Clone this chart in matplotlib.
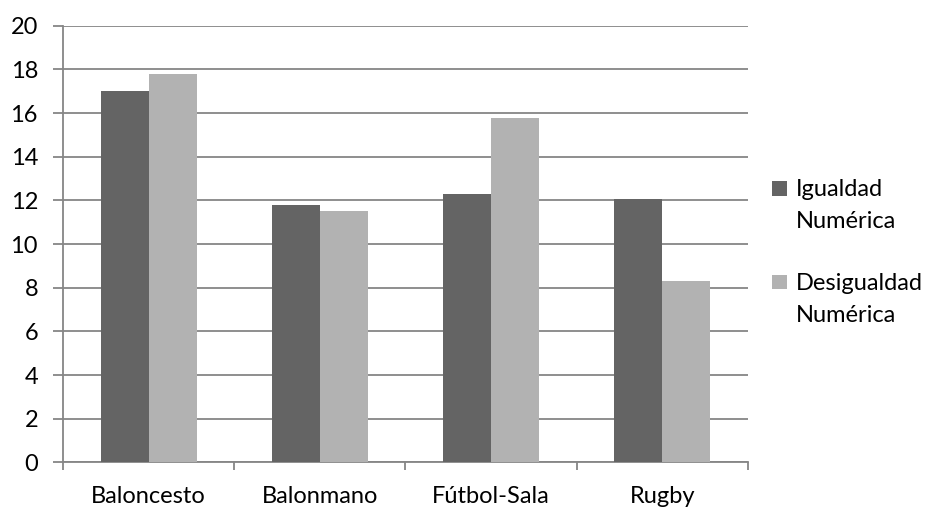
import matplotlib
matplotlib.use("Agg")
import matplotlib.pyplot as plt
import numpy as np
from matplotlib.patches import Patch, Rectangle
from matplotlib.legend_handler import HandlerPatch

categories = ["Baloncesto", "Balonmano", "Fútbol-Sala", "Rugby"]
igualdad = [17.0, 11.8, 12.3, 12.05]
desigualdad = [17.8, 11.5, 15.75, 8.3]
series_labels = ["Igualdad\nNumérica", "Desigualdad\nNumérica"]
yticks = [0, 2, 4, 6, 8, 10, 12, 14, 16, 18, 20]

dark = "#646464"
light = "#b2b2b2"
grid_c = "#868686"
fs = 17

plt.rcParams["font.family"] = ["Lato", "DejaVu Sans"]

fig = plt.figure(figsize=(9.28, 5.08), dpi=100)
ax = fig.add_axes([0.0679, 0.0898, 0.806 - 0.0679, 0.9494 - 0.0898])

x = np.arange(len(categories))
w = 0.28
ax.bar(x - w / 2, igualdad, w, color=dark, edgecolor="none", zorder=3)
ax.bar(x + w / 2, desigualdad, w, color=light, edgecolor="none", zorder=3)

ax.set_xlim(-0.5, len(categories) - 0.5)
ax.set_ylim(0, 20)
ax.set_yticks(yticks)
ax.set_yticklabels([str(v) for v in yticks], fontsize=fs)
ax.yaxis.grid(True, color=grid_c, linewidth=1.3, zorder=0)

# category labels centred, tick marks on category boundaries
ax.set_xticks(x)
ax.set_xticklabels(categories, fontsize=fs)
ax.tick_params(axis="x", which="major", length=0, pad=17)
ax.set_xticks(np.arange(-0.5, len(categories)), minor=True)
ax.tick_params(axis="x", which="minor", length=6, width=1.3, color=grid_c)
ax.tick_params(axis="y", length=7, width=1.3, color=grid_c, pad=11)

for s in ["top", "right"]:
    ax.spines[s].set_visible(False)
for s in ["left", "bottom"]:
    ax.spines[s].set_color(grid_c)
    ax.spines[s].set_linewidth(1.3)

KEY_PTS = 10.5    # size of the square key, in points
KEY_LIFT = 13.3   # lift of the key above the label's centre line, in points


class TopSquare(HandlerPatch):
    """Square legend key sitting on the first line of a two-line label."""

    def create_artists(self, legend, orig_handle, xdescent, ydescent,
                       width, height, fontsize, trans):
        r = Rectangle((-xdescent, KEY_LIFT), KEY_PTS, KEY_PTS,
                      facecolor=orig_handle.get_facecolor(),
                      edgecolor="none", transform=trans)
        return [r]


handles = [Patch(facecolor=dark), Patch(facecolor=light)]
leg = fig.legend(handles, series_labels, loc="center left",
                 bbox_to_anchor=(0.832, 0.503), frameon=False, fontsize=fs,
                 handler_map={Patch: TopSquare()},
                 handlelength=KEY_PTS / fs, handletextpad=0.38,
                 labelspacing=1.75, borderpad=0, borderaxespad=0)
for t in leg.get_texts():
    t.set_linespacing(1.62)

fig.savefig("out.png", dpi=100)
